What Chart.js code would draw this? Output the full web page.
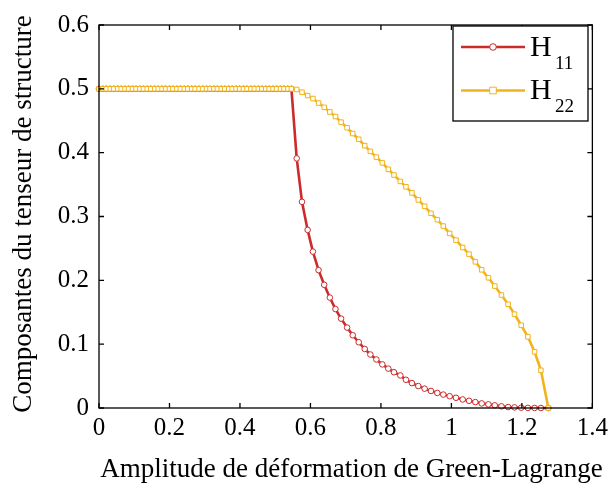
<!DOCTYPE html>
<html>
<head>
<meta charset="utf-8">
<script src="https://cdn.jsdelivr.net/npm/chart.js@4/dist/chart.umd.min.js"></script>
<style>
  html, body { margin: 0; padding: 0; background: #fff; }
  #wrap { width: 613px; height: 484px; }
</style>
</head>
<body>
<div id="wrap"><canvas id="myChart" width="613" height="484"></canvas></div>
<script>
// Green-Lagrange strain amplitude (x)
const strain = [
  0, 0.011, 0.021, 0.032, 0.042, 0.053, 0.063, 0.074, 0.084, 0.095,
  0.105, 0.116, 0.126, 0.137, 0.147, 0.158, 0.168, 0.179, 0.189, 0.200,
  0.210, 0.221, 0.231, 0.242, 0.252, 0.263, 0.273, 0.284, 0.294, 0.305,
  0.315, 0.326, 0.336, 0.347, 0.357, 0.368, 0.378, 0.389, 0.399, 0.410,
  0.420, 0.431, 0.441, 0.452, 0.462, 0.473, 0.483, 0.494, 0.504, 0.515,
  0.525, 0.536, 0.546,
  0.561, 0.576, 0.592, 0.607, 0.623, 0.639, 0.655, 0.671, 0.687, 0.704,
  0.720, 0.737, 0.754, 0.770, 0.787, 0.804, 0.821, 0.837, 0.855, 0.871,
  0.888, 0.906, 0.924, 0.942, 0.960, 0.977, 0.995, 1.013, 1.032, 1.050,
  1.068, 1.086, 1.105, 1.123, 1.142, 1.161, 1.179, 1.198, 1.217, 1.236,
  1.254, 1.275
];

const h11 = [
  0.5, 0.5, 0.5, 0.5, 0.5, 0.5, 0.5, 0.5, 0.5, 0.5,
  0.5, 0.5, 0.5, 0.5, 0.5, 0.5, 0.5, 0.5, 0.5, 0.5,
  0.5, 0.5, 0.5, 0.5, 0.5, 0.5, 0.5, 0.5, 0.5, 0.5,
  0.5, 0.5, 0.5, 0.5, 0.5, 0.5, 0.5, 0.5, 0.5, 0.5,
  0.5, 0.5, 0.5, 0.5, 0.5, 0.5, 0.5, 0.5, 0.5, 0.5,
  0.5, 0.5, 0.5,
  0.391, 0.323, 0.279, 0.245, 0.216, 0.193, 0.173, 0.155, 0.140, 0.126,
  0.114, 0.103, 0.0925, 0.0838, 0.076, 0.0683, 0.0617, 0.056, 0.051, 0.0442,
  0.039, 0.0344, 0.0303, 0.0267, 0.0236, 0.021, 0.0185, 0.016, 0.0134, 0.0113,
  0.0093, 0.0072, 0.0057, 0.0042, 0.0026, 0.0015, 0.001, 0.0005, 0.0002, 0.0001,
  0, 0
];

const h22 = [
  0.5, 0.5, 0.5, 0.5, 0.5, 0.5, 0.5, 0.5, 0.5, 0.5,
  0.5, 0.5, 0.5, 0.5, 0.5, 0.5, 0.5, 0.5, 0.5, 0.5,
  0.5, 0.5, 0.5, 0.5, 0.5, 0.5, 0.5, 0.5, 0.5, 0.5,
  0.5, 0.5, 0.5, 0.5, 0.5, 0.5, 0.5, 0.5, 0.5, 0.5,
  0.5, 0.5, 0.5, 0.5, 0.5, 0.5, 0.5, 0.5, 0.5, 0.5,
  0.5, 0.5, 0.5,
  0.499, 0.4947, 0.4895, 0.4848, 0.4777, 0.471, 0.4638, 0.4566, 0.4478, 0.439,
  0.430, 0.421, 0.411, 0.402, 0.393, 0.384, 0.374, 0.365, 0.355, 0.3466,
  0.337, 0.326, 0.316, 0.305, 0.295, 0.285, 0.2735, 0.263, 0.2515, 0.241,
  0.229, 0.2165, 0.204, 0.191, 0.177, 0.1625, 0.147, 0.1296, 0.1115, 0.088,
  0.059, 0
];

const xTicks = [0, 0.2, 0.4, 0.6, 0.8, 1, 1.2, 1.4];
const yTicks = [0, 0.1, 0.2, 0.3, 0.4, 0.5, 0.6];
const xTitle = "Amplitude de déformation de Green-Lagrange";
const yTitle = "Composantes du tenseur de structure";

const RED = "#cc2b2b";
const YELLOW = "#f2b31c";
const SERIF = "'Liberation Serif', 'Times New Roman', serif";

function pts(ys) {
  return strain.map((x, i) => ({ x: x, y: ys[i] }));
}

function fmt(v) {
  return String(Math.round(v * 10) / 10);
}

// box frame, inward ticks on all four sides, axis titles and the legend
const framePlugin = {
  id: "frame",
  afterDraw(chart) {
    const { ctx, chartArea: a, scales } = chart;
    ctx.save();
    ctx.strokeStyle = "#000";
    ctx.lineWidth = 1.3;
    ctx.strokeRect(a.left, a.top, a.right - a.left, a.bottom - a.top);
    const t = 5;
    ctx.beginPath();
    xTicks.forEach(v => {
      const px = scales.x.getPixelForValue(v);
      ctx.moveTo(px, a.bottom); ctx.lineTo(px, a.bottom - t);
      ctx.moveTo(px, a.top); ctx.lineTo(px, a.top + t);
    });
    yTicks.forEach(v => {
      const py = scales.y.getPixelForValue(v);
      ctx.moveTo(a.left, py); ctx.lineTo(a.left + t, py);
      ctx.moveTo(a.right, py); ctx.lineTo(a.right - t, py);
    });
    ctx.stroke();

    // axis titles
    ctx.fillStyle = "#000";
    ctx.font = "27px " + SERIF;
    ctx.textAlign = "center";
    ctx.textBaseline = "alphabetic";
    ctx.fillText(xTitle, 351.5, 477);
    ctx.save();
    ctx.translate(31, 214);
    ctx.rotate(-Math.PI / 2);
    ctx.fillText(yTitle, 0, 0);
    ctx.restore();

    // legend
    const bx = 453, by = 26, bw = 135, bh = 95;
    ctx.fillStyle = "#fff";
    ctx.fillRect(bx, by, bw, bh);
    ctx.lineWidth = 1.3;
    ctx.strokeRect(bx, by, bw, bh);
    const items = [
      { label: "H", sub: "11", color: RED, style: "circle", y: 47 },
      { label: "H", sub: "22", color: YELLOW, style: "rect", y: 90.5 }
    ];
    items.forEach(it => {
      ctx.strokeStyle = it.color;
      ctx.lineWidth = 2.6;
      ctx.beginPath();
      ctx.moveTo(461, it.y); ctx.lineTo(525, it.y);
      ctx.stroke();
      ctx.lineWidth = 1;
      ctx.fillStyle = "#fff";
      ctx.beginPath();
      if (it.style === "circle") {
        ctx.arc(493, it.y, 3.3, 0, Math.PI * 2);
      } else {
        ctx.rect(493 - 3.3, it.y - 3.3, 6.6, 6.6);
      }
      ctx.fill();
      ctx.stroke();
      ctx.fillStyle = "#000";
      ctx.textBaseline = "alphabetic";
      ctx.textAlign = "left";
      ctx.font = "30px " + SERIF;
      ctx.fillText(it.label, 530, it.y + 8.5);
      ctx.font = "19px " + SERIF;
      ctx.fillText(it.sub, 555, it.y + 21.5);
    });
    ctx.restore();
  }
};

new Chart(document.getElementById("myChart").getContext("2d"), {
  type: "line",
  data: {
    datasets: [
      {
        label: "H11",
        data: pts(h11),
        borderColor: RED,
        borderWidth: 2.6,
        pointStyle: "circle",
        pointRadius: 2.8,
        pointBorderWidth: 1,
        pointBorderColor: RED,
        pointBackgroundColor: "#fff",
        tension: 0,
        clip: false,
        order: 1
      },
      {
        label: "H22",
        data: pts(h22),
        borderColor: YELLOW,
        borderWidth: 2.6,
        pointStyle: "rect",
        pointRadius: 3.2,
        pointBorderWidth: 1,
        pointBorderColor: YELLOW,
        pointBackgroundColor: "#fff",
        tension: 0,
        clip: false,
        order: 0
      }
    ]
  },
  options: {
    responsive: false,
    animation: false,
    events: [],
    layout: { padding: { left: 0, top: 19, right: 18, bottom: 0 } },
    plugins: { legend: { display: false }, tooltip: { enabled: false } },
    scales: {
      x: {
        type: "linear",
        min: 0,
        max: 1.4,
        afterBuildTicks: s => { s.ticks = xTicks.map(v => ({ value: v })); },
        afterFit: s => { s.height = 76; },
        grid: { display: false, drawTicks: false },
        border: { display: false },
        ticks: { color: "#000", font: { family: SERIF, size: 25 }, padding: 5, maxRotation: 0, callback: fmt }
      },
      y: {
        type: "linear",
        min: 0,
        max: 0.6,
        afterBuildTicks: s => { s.ticks = yTicks.map(v => ({ value: v })); },
        afterFit: s => { s.width = 99; },
        grid: { display: false, drawTicks: false },
        border: { display: false },
        ticks: { color: "#000", font: { family: SERIF, size: 25 }, padding: 10, callback: fmt }
      }
    }
  },
  plugins: [framePlugin]
});
</script>
</body>
</html>
